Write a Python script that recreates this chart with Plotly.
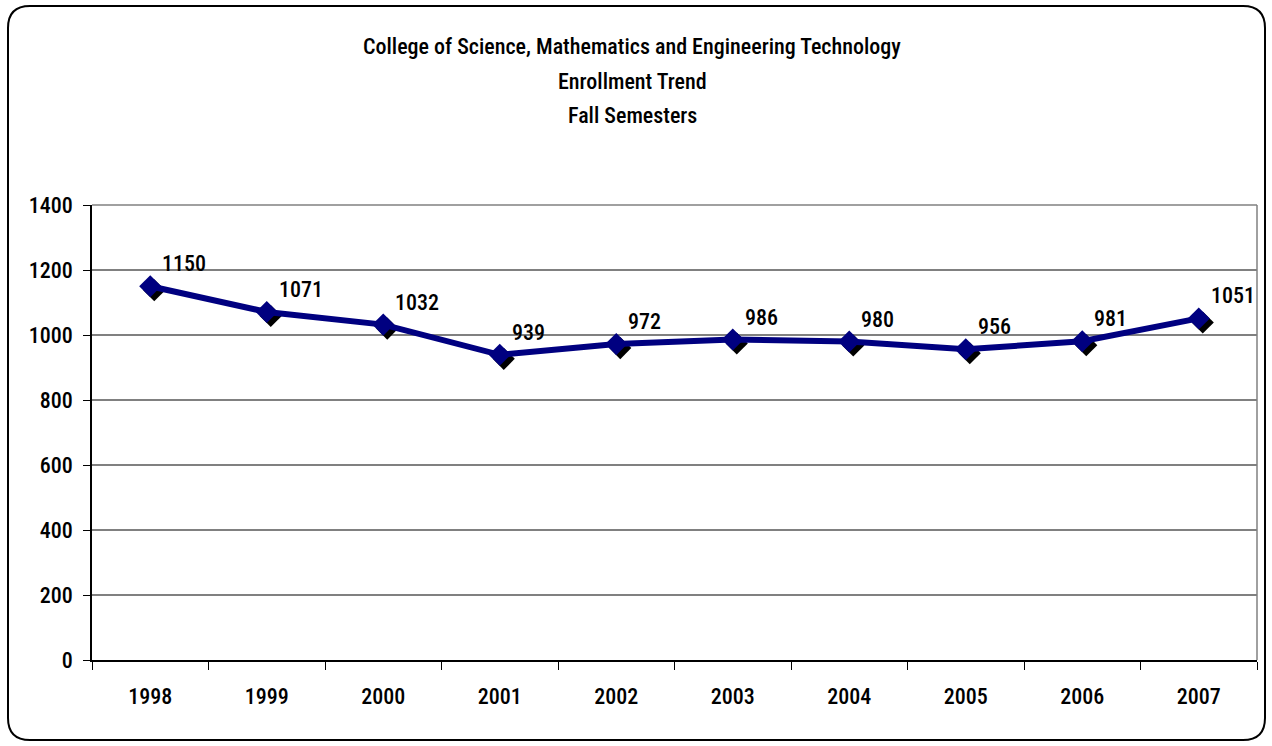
import plotly.graph_objects as go

years = ["1998", "1999", "2000", "2001", "2002", "2003", "2004", "2005", "2006", "2007"]
enrollment = [1150, 1071, 1032, 939, 972, 986, 980, 956, 981, 1051]
title_lines = ["College of Science, Mathematics and Engineering Technology",
               "Enrollment Trend", "Fall Semesters"]
y_ticks = [0, 200, 400, 600, 800, 1000, 1200, 1400]

W, H = 1272, 746
L, R, T, B = 92, 15, 205, 86
PW, PH = W - L - R, H - T - B
FONT = "Liberation Sans Narrow, Arial Narrow, Roboto Condensed, sans-serif"
FS = 22
WT = 500

def px2x(px):
    return (px - L) / PW

def px2y(py):
    return (H - B - py) / PH

n = len(years)
dx_px, dy_px = 4, 4
dx = dx_px * n / PW
dy = dy_px * 1400 / PH

fig = go.Figure()
# shadow (overlay axis x2/y2 shifted a few pixels right/down)
fig.add_trace(go.Scatter(
    x=years, y=enrollment, mode="markers", xaxis="x2", yaxis="y2",
    marker=dict(symbol="diamond", size=17, color="black", line=dict(width=0)),
    hoverinfo="skip", showlegend=False))
# main line (overlay x3/y3, same range as main axes, drawn on top)
fig.add_trace(go.Scatter(
    x=years, y=enrollment, mode="lines+markers", xaxis="x3", yaxis="y3",
    line=dict(color="#000080", width=6),
    marker=dict(symbol="diamond", size=17, color="#000080", line=dict(width=0)),
    showlegend=False))
# invisible trace establishing the main axes
fig.add_trace(go.Scatter(x=years, y=enrollment, mode="markers",
                         marker=dict(opacity=0), hoverinfo="skip", showlegend=False))

annotations = []
for i, v in enumerate(enrollment):
    annotations.append(dict(x=i, y=v, xref="x", yref="y", text=str(v),
                            showarrow=False, xanchor="left", yanchor="bottom",
                            xshift=10, yshift=8,
                            font=dict(family=FONT, size=FS, color="black", weight=WT)))
for i, line in enumerate(title_lines):
    annotations.append(dict(x=px2x(W / 2 - 4), y=px2y(47 + 34 * i), xref="paper", yref="paper",
                            text=line, showarrow=False, xanchor="center", yanchor="middle",
                            font=dict(family=FONT, size=FS, color="black", weight=WT)))

# rounded border
x0, x1 = 8, 1265
y0, y1 = 6, 740
r = 22
def P(px, py):
    return f"{px2x(px):.5f},{px2y(py):.5f}"
path = (f"M {P(x0 + r, y0)} L {P(x1 - r, y0)} Q {P(x1, y0)} {P(x1, y0 + r)} "
        f"L {P(x1, y1 - r)} Q {P(x1, y1)} {P(x1 - r, y1)} "
        f"L {P(x0 + r, y1)} Q {P(x0, y1)} {P(x0, y1 - r)} "
        f"L {P(x0, y0 + r)} Q {P(x0, y0)} {P(x0 + r, y0)} Z")

shapes = [
    dict(type="path", xref="paper", yref="paper", path=path,
         line=dict(color="black", width=2), layer="above"),
    dict(type="line", xref="paper", yref="paper", x0=1, x1=1, y0=0, y1=1,
         line=dict(color="#808080", width=1.5), layer="below"),
    dict(type="line", xref="paper", yref="paper", x0=0, x1=1, y0=1, y1=1,
         line=dict(color="#808080", width=1.5), layer="below"),
]

fig.update_layout(
    width=W, height=H,
    margin=dict(l=L, r=R, t=T, b=B),
    paper_bgcolor="white", plot_bgcolor="white",
    font=dict(family=FONT, size=FS, color="black", weight=WT),
    xaxis=dict(type="category", range=[-0.5, n - 0.5], showgrid=False,
               showline=True, linecolor="black", linewidth=1.5,
               ticks="outside", tickson="boundaries", ticklen=8, tickcolor="black",
               ticklabelstandoff=16,
               tickfont=dict(family=FONT, size=FS, weight=WT), zeroline=False, fixedrange=True),
    yaxis=dict(range=[0, 1400], tickvals=y_ticks, showgrid=True, gridcolor="#808080",
               gridwidth=1.5, showline=True, linecolor="black", linewidth=1.5,
               ticks="outside", ticklen=7, tickcolor="black", zeroline=False,
               ticklabelstandoff=6,
               tickfont=dict(family=FONT, size=FS, weight=WT), fixedrange=True),
    xaxis2=dict(type="category", overlaying="x", range=[-0.5 - dx, n - 0.5 - dx],
                visible=False, fixedrange=True),
    yaxis2=dict(overlaying="y", range=[dy, 1400 + dy], visible=False, fixedrange=True),
    xaxis3=dict(type="category", overlaying="x", range=[-0.5, n - 0.5],
                visible=False, fixedrange=True),
    yaxis3=dict(overlaying="y", range=[0, 1400], visible=False, fixedrange=True),
    annotations=annotations,
    shapes=shapes,
)

fig.write_html("out.html", config={"displayModeBar": False},
               post_script="document.body.style.margin='0';document.body.style.overflow='hidden';")
